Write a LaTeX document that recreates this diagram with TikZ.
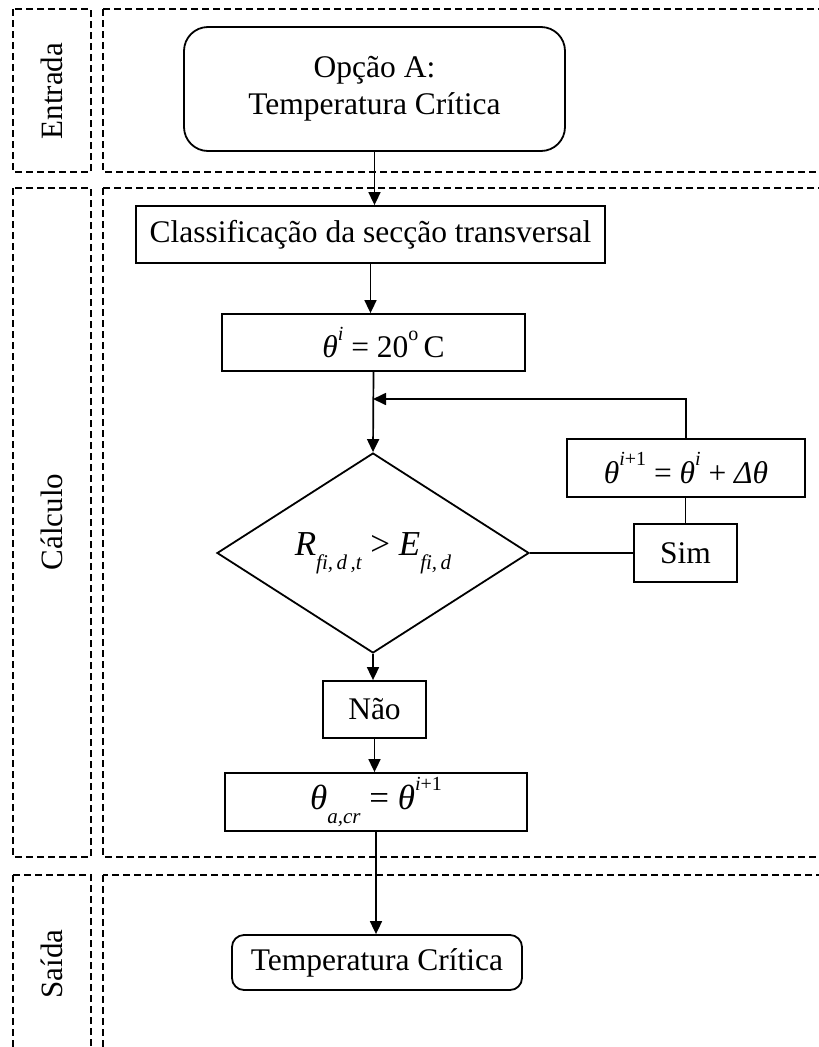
\documentclass[tikz,border=0pt]{standalone}
\usepackage{fontspec}
\setmainfont{Liberation Serif}
\usetikzlibrary{shapes.geometric,arrows.meta}
\newcommand{\mysub}[1]{\raisebox{-0.4em}{\fontsize{21}{21}\selectfont\itshape #1}}
\newcommand{\mysup}[1]{\raisebox{0.55em}{\fontsize{20}{20}\selectfont #1}}
\begin{document}
\begin{tikzpicture}[x=1pt,y=-1pt,
  lane/.style={draw, dash pattern=on 7pt off 4pt, line width=1.6pt},
  box/.style={draw, line width=1.8pt, inner sep=0pt, font=\fontsize{31.5}{37}\selectfont, align=center},
  rbox/.style={box, rounded corners=#1},
  mathf/.style={font=\fontsize{35}{37}\selectfont},
  arr/.style={line width=1.7pt, -{Triangle[length=13pt,width=12pt]}},
  lin/.style={line width=1.7pt},
  lbl/.style={rotate=90, font=\fontsize{31}{36}\selectfont}
]
\useasboundingbox (0,0) rectangle (819,1047);
\clip (0,0) rectangle (819,1047);

% lanes
\draw[lane] (13,9) rectangle (91,172);
\draw[lane] (103,9) rectangle (840,172);
\draw[lane] (13,188) rectangle (91,857);
\draw[lane] (103,188) rectangle (840,857);
\draw[lane] (13,875) rectangle (91,1070);
\draw[lane] (103,875) rectangle (840,1070);

\node[lbl] (le) at (52,91) {Entrada};
\node[lbl] (lc) at (52,522) {Cálculo};
\node[lbl] (ls) at (52,964) {Saída};

% nodes
\node[rbox=24pt, minimum width=381pt, minimum height=124pt] (opcao) at (374.5,89) {Opção A:\\Temperatura Crítica};
\node[box, minimum width=469pt, minimum height=57pt] (classif) at (370.5,234.5) {Classificação da secção transversal};
\node[box, minimum width=303pt, minimum height=57pt] (theta0) at (373.5,342.5) {\hspace{20pt}\textit{θ}\mysup{\textit{i}} = 20\mysup{o}\,C};
\node[box, mathf, shape=diamond, aspect=1.56, minimum width=312pt, minimum height=200pt] (dec) at (373,553) {\textit{R}\mysub{fi,\,d\,,t} > \textit{E}\mysub{fi,\,d}};
\node[box, minimum width=238pt, minimum height=58pt] (tnext) at (686,468) {\textit{θ}\mysup{\textit{i}+1} = \textit{θ}\mysup{\textit{i}} + \textit{Δθ}};
\node[box, minimum width=103pt, minimum height=58pt] (sim) at (685.5,553) {Sim};
\node[box, minimum width=103pt, minimum height=57pt] (nao) at (374.5,709.5) {Não};
\node[box, mathf, minimum width=302pt, minimum height=58pt] (tcr) at (376,802) {\textit{θ}\mysub{a,cr} = \textit{θ}\mysup{\textit{i}+1}};
\node[rbox=12pt, minimum width=290pt, minimum height=55pt] (tc) at (377,962.5) {Temperatura Crítica};

\coordinate (loopc) at (373,399);

% connectors
\draw[arr] (opcao.south) -- (opcao.south |- classif.north);
\draw[arr] (classif.south) -- (classif.south |- theta0.north);
\draw[arr] (theta0.south) -- (dec.north);
\draw[arr] (tnext.north) |- (loopc);
\draw[lin] (dec.east) -- (sim.west);
\draw[lin] (sim.north) -- (sim.north |- tnext.south);
\draw[arr] (dec.south) -- (dec.south |- nao.north);
\draw[arr] (nao.south) -- (nao.south |- tcr.north);
\draw[arr] (tcr.south) -- (tcr.south |- tc.north);
\end{tikzpicture}
\end{document}
